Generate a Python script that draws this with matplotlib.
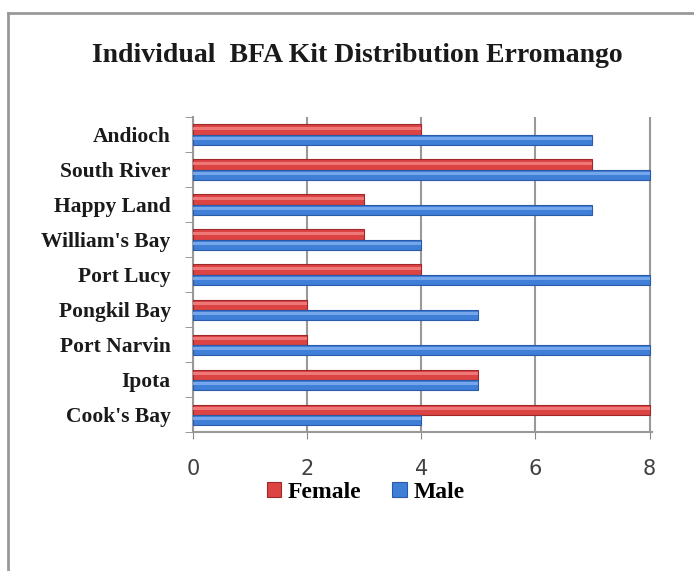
import matplotlib.pyplot as plt
import matplotlib.lines as mlines
import numpy as np

# data, bottom to top
sites = ["Cook's Bay", "Ipota", "Port Narvin", "Pongkil Bay", "Port Lucy",
         "William's Bay", "Happy Land", "South River", "Andioch"]
female = [8, 5, 2, 2, 4, 3, 3, 7, 4]
male = [4, 5, 8, 5, 8, 4, 7, 8, 7]
x_ticks = [0, 2, 4, 6, 8]

RED = "#dc4343"
BLUE = "#3f7fd8"
SERIF = "Liberation Serif"

fig = plt.figure(figsize=(6.94, 5.71), dpi=100)
ax = fig.add_axes([0.278, 0.243, 0.662, 0.552])

y = np.arange(len(sites))
h = 0.29
ax.barh(y + h / 2, female, height=h, color=RED, edgecolor="#a02828",
        linewidth=0.8, label="Female", zorder=3)
ax.barh(y - h / 2, male, height=h, color=BLUE, edgecolor="#2a5aa8",
        linewidth=0.8, label="Male", zorder=3)
# light stripe to fake the glossy look
ax.barh(y + h / 2 + h * 0.12, female, height=h * 0.3, color="#ee7777",
        linewidth=0, zorder=4)
ax.barh(y - h / 2 + h * 0.12, male, height=h * 0.3, color="#76a6ea",
        linewidth=0, zorder=4)

ax.set_xlim(0, 8.05)
ax.set_ylim(-0.5, len(sites) - 0.5)
ax.set_xticks(x_ticks)
ax.set_xticklabels([str(v) for v in x_ticks], fontsize=15,
                   family="DejaVu Sans", color="#404040")
ax.set_yticks(y)
ax.set_yticklabels(sites, fontsize=15.5, family=SERIF, fontweight="bold",
                   color="#1a1a1a")
ax.tick_params(axis="y", length=0, pad=16)
ax.tick_params(axis="x", length=5, color="#888888", pad=14)
ax.set_yticks(np.arange(len(sites) + 1) - 0.5, minor=True)
ax.tick_params(axis="y", which="minor", length=6, color="#888888")

ax.grid(axis="x", color="#999999", linewidth=1.5, zorder=0)
for s in ["top", "right"]:
    ax.spines[s].set_visible(False)
ax.spines["left"].set_color("#999999")
ax.spines["left"].set_linewidth(1.5)
ax.spines["bottom"].set_color("#999999")
ax.spines["bottom"].set_linewidth(1.5)

fig.text(0.515, 0.902, "Individual  BFA Kit Distribution Erromango",
         ha="center", va="center", fontsize=20, family=SERIF,
         fontweight="bold", color="#1a1a1a")

leg = fig.legend(loc="center", bbox_to_anchor=(0.527, 0.138), ncol=2,
                 frameon=False, handlelength=0.6, handleheight=0.6,
                 handletextpad=0.3, columnspacing=1.3,
                 prop={"family": SERIF, "weight": "bold", "size": 17})

# outer frame (only top and left visible in the crop)
fig.add_artist(mlines.Line2D([0.012, 0.012], [0, 0.977], color="#999999",
                             linewidth=2, transform=fig.transFigure))
fig.add_artist(mlines.Line2D([0.012, 1.0], [0.977, 0.977], color="#999999",
                             linewidth=2, transform=fig.transFigure))

fig.savefig("out.png", dpi=100)
